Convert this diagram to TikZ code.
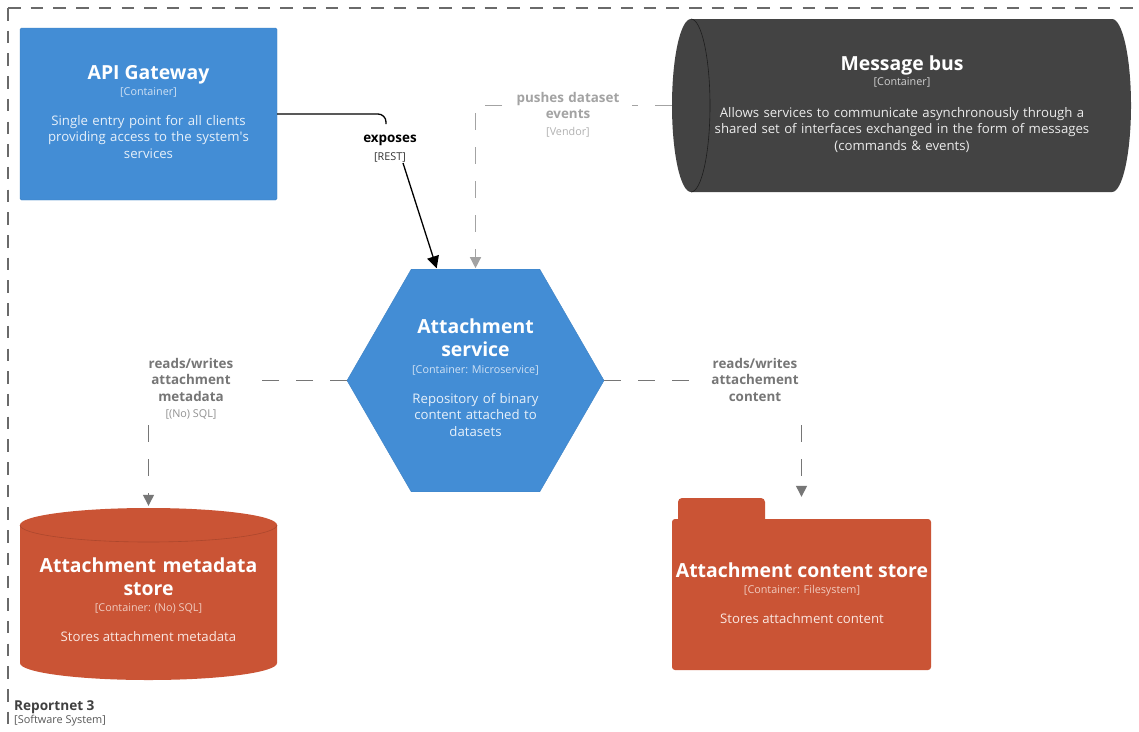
\documentclass[tikz,border=0pt]{standalone}
\usepackage{fontspec}
\setmainfont{Open Sans}
\usetikzlibrary{arrows.meta,shapes.geometric,calc}

\definecolor{c4blue}{HTML}{438DD5}
\definecolor{c4red}{HTML}{CA5435}
\definecolor{busgray}{HTML}{434343}
\definecolor{subblue}{HTML}{CFE1F4}
\definecolor{descblue}{HTML}{E6F0FA}
\definecolor{subred}{HTML}{F0CBBF}
\definecolor{descred}{HTML}{FAE6E0}
\definecolor{subgray}{HTML}{D0D0D0}
\definecolor{relmid}{HTML}{767676}
\definecolor{rellight}{HTML}{A3A3A3}
\definecolor{frame}{HTML}{6A6A6A}

\tikzset{
  title/.style={font=\bfseries\fontsize{19.4}{23}\selectfont, text=white, align=center, inner sep=0pt, anchor=base},
  subtitle/.style={font=\fontsize{10.8}{12}\selectfont, inner sep=0pt, anchor=base},
  desc/.style={font=\fontsize{13.2}{16.6}\selectfont, align=center, inner sep=0pt, anchor=base},
  rellabel/.style={font=\bfseries\fontsize{13.4}{16.6}\selectfont, align=center, inner sep=0pt, anchor=base, text width=130pt},
  reltech/.style={font=\fontsize{10.8}{12}\selectfont, inner sep=0pt, anchor=base},
  tip/.style={-{Triangle[length=11pt,width=11pt]}},
  relsolid/.style={draw=black, line width=1.3pt, -{Triangle[length=12pt,width=12pt]}},
  reldash/.style={line width=1.3pt, dash pattern=on 17pt off 17pt, tip},
  frameline/.style={draw=frame, line width=1.1pt, dash pattern=on 12.5pt off 10.2pt},
}

\begin{document}
\begin{tikzpicture}[x=1pt,y=-1pt]
\useasboundingbox (0,0) rectangle (1139,731);
\fill[white] (0,0) rectangle (1139,731);

% system boundary
\coordinate (frameCorner) at (8,8);
\draw[frameline] (frameCorner) -- (1150,8);
\draw[frameline] (frameCorner) -- (8,745);
\node[font=\bfseries\fontsize{13.6}{15}\selectfont, text=black!75, anchor=base west, inner sep=0pt] (sysName) at (14,710) {Reportnet 3};
\node[font=\fontsize{10.9}{12}\selectfont, text=black!65, anchor=base west, inner sep=0pt] (sysType) at (14,723) {[Software System]};

% API Gateway
\node[rectangle, fill=c4blue, draw=c4blue!92!black, line width=0.4pt, rounded corners=1.5pt,
      minimum width=257pt, minimum height=172pt, inner sep=0pt] (api) at (148.5,114) {};
\node[title] (apiT) at (148.5,79) {API Gateway};
\node[subtitle, text=subblue] (apiS) at (148.5,95) {[Container]};
\node[desc, text=descblue, text width=245pt] (apiD) at (148.5,125)
  {Single entry point for all clients\\providing access to the system\textquotesingle s\\services};

% Message bus (horizontal cylinder)
\node[inner sep=0pt, minimum width=459pt, minimum height=173pt] (bus) at (901.5,105.5) {};
\fill[busgray] (691,19) -- (1112,19)
  arc[start angle=270, end angle=450, x radius=19, y radius=86.5]
  -- (691,192)
  arc[start angle=90, end angle=270, x radius=19, y radius=86.5] -- cycle;
\draw[black!55!busgray, line width=0.6pt] (691,19)
  arc[start angle=270, end angle=450, x radius=19, y radius=86.5];
\node[title] (busT) at (902,70) {Message bus};
\node[subtitle, text=subgray] (busS) at (902,85) {[Container]};
\node[desc, text=white!92!black, text width=420pt] (busD) at (902,117)
  {Allows services to communicate asynchronously through a\\shared set of interfaces exchanged in the form of messages\\(commands \& events)};

% Attachment service (hexagon)
\node[regular polygon, regular polygon sides=6, minimum size=257pt, inner sep=0pt,
      fill=c4blue, draw=c4blue!92!black, line width=0.4pt] (svc) at (475.5,380.5) {};
\node[title, text width=240pt] (svcT) at (475.5,333) {Attachment\\service};
\node[subtitle, text=subblue] (svcS) at (475.5,373) {[Container: Microservice]};
\node[desc, text=descblue, text width=200pt] (svcD) at (475.5,403)
  {Repository of binary\\content attached to\\datasets};

% Attachment metadata store (vertical cylinder)
\node[inner sep=0pt, minimum width=257pt, minimum height=172pt] (meta) at (148.5,594) {};
\fill[c4red] (20,525)
  arc[start angle=180, end angle=360, x radius=128.5, y radius=17]
  -- (277,663)
  arc[start angle=0, end angle=180, x radius=128.5, y radius=17] -- cycle;
\draw[c4red!85!black, line width=0.6pt] (20,525)
  arc[start angle=180, end angle=0, x radius=128.5, y radius=17];
\node[title, text width=250pt] (metaT) at (148.5,572) {Attachment metadata\\store};
\node[subtitle, text=subred] (metaS) at (148.5,611) {[Container: (No) SQL]};
\node[desc, text=descred] (metaD) at (148.5,641) {Stores attachment metadata};

% Attachment content store (folder)
\node[inner sep=0pt, minimum width=259pt, minimum height=172pt] (content) at (801.5,584) {};
\fill[c4red, rounded corners=4pt] (678,526) -- (678,498) -- (765,498) -- (765,526) -- cycle;
\draw[c4red!88!black, line width=0.5pt] (678.5,519.5) -- (765,519.5);
\fill[c4red, rounded corners=3pt] (672,519) rectangle (931,670);
\node[title] (contT) at (802,577) {Attachment content store};
\node[subtitle, text=subred] (contS) at (802,593) {[Container: Filesystem]};
\node[desc, text=descred] (contD) at (802,623) {Stores attachment content};

% API Gateway -> Attachment service
\coordinate (gwBend) at (386,124);
\coordinate (gwOut) at (403,163);
\draw[draw=black, line width=1.3pt, rounded corners=8pt] (api.east) -| (gwBend);
\draw[relsolid, shorten >=1pt] (gwOut) -- ($(svc.center)+(-38.5,-111.3)$);
\node[rellabel, text=black] (gwL) at (390,142) {exposes};
\node[reltech, text=black!80] (gwTech) at (390,160) {[REST]};

% Message bus -> Attachment service
\coordinate (busGapR) at (632,105.5);
\coordinate (busGapL) at (502,105.5);
\draw[draw=rellight, line width=1.3pt, dash pattern=on 17pt off 17pt] (bus.west) -- (busGapR);
\draw[reldash, draw=rellight, shorten >=1pt]
  (busGapL) -| ($(svc.center)+(0,-111.3)$);
\node[rellabel, text=rellight] (busL) at (568,102) {pushes dataset\\events};
\node[reltech, text=rellight!85!white] (busTech) at (568,135) {[Vendor]};

% Attachment service -> metadata store
\coordinate (metaGapR) at (262,380.5);
\coordinate (metaGapB) at (148.5,425);
\draw[draw=relmid, line width=1.3pt, dash pattern=on 17pt off 17pt] ($(svc.center)+(-128.5,0)$) -- (metaGapR);
\draw[reldash, draw=relmid, shorten >=2pt] (metaGapB) -- (meta.north);
\node[rellabel, text=relmid] (metaL) at (191,368) {reads/writes\\attachment\\metadata};
\node[reltech, text=relmid!80!white] (metaTech) at (191,417) {[(No) SQL]};

% Attachment service -> content store
\coordinate (contGapL) at (690,380.5);
\coordinate (contGapT) at (801.5,425);
\draw[draw=relmid, line width=1.3pt, dash pattern=on 17pt off 17pt] ($(svc.center)+(128.5,0)$) -- (contGapL);
\draw[reldash, draw=relmid, shorten >=1pt] (contGapT) -- (content.north);
\node[rellabel, text=relmid] (contL) at (755,368) {reads/writes\\attachement\\content};
\end{tikzpicture}
\end{document}
